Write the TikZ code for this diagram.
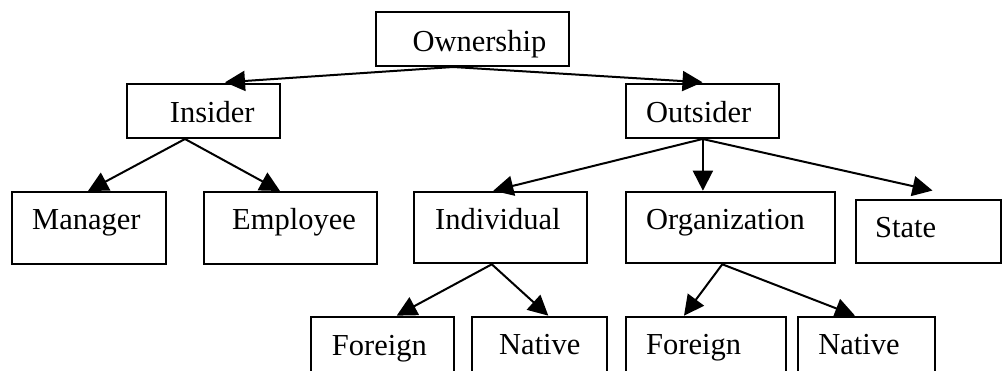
\documentclass[tikz,border=0pt]{standalone}
\usepackage{fontspec}
\setmainfont{Liberation Serif}
\usetikzlibrary{arrows.meta,calc}
\begin{document}
\begin{tikzpicture}[x=1pt,y=-1pt,
  box/.style={draw=black,line width=2pt,fill=white,rectangle,inner sep=0pt},
  lbl/.style={anchor=base west,inner sep=0pt,font=\fontsize{30.5}{36}\selectfont},
  conn/.style={line width=2pt,-{Triangle[length=20pt,width=20pt]}}]
\useasboundingbox (0,0) rectangle (1003,371);
\clip (0,0) rectangle (1003,371);
% boxes
\node[box,minimum width=193pt,minimum height=54pt] (own) at (472.5,39) {};
\node[box,minimum width=153pt,minimum height=54pt] (ins) at (203.5,111) {};
\node[box,minimum width=153.6pt,minimum height=54pt] (out) at (702.5,111) {};
\node[box,minimum width=154pt,minimum height=72pt] (man) at (89,228) {};
\node[box,minimum width=173pt,minimum height=72pt] (emp) at (290.5,228) {};
\node[box,minimum width=173pt,minimum height=71.6pt] (ind) at (500.8,227.5) {};
\node[box,minimum width=209.3pt,minimum height=71.6pt] (org) at (730.3,227.5) {};
\node[box,minimum width=145.3pt,minimum height=63.3pt] (sta) at (928.3,231.7) {};
\node[box,minimum width=143pt,minimum height=71.3pt] (fo1) at (382.5,352.3) {};
\node[box,minimum width=134.4pt,minimum height=71.3pt] (na1) at (539.5,352.3) {};
\node[box,minimum width=160pt,minimum height=71.3pt] (fo2) at (705.7,352.3) {};
\node[box,minimum width=136.7pt,minimum height=71.3pt] (na2) at (866.7,352.3) {};
% texts
\node[lbl] (townership) at ($(own.north west)+(37.3,40.5)$) {Ownership};
\node[lbl] (tinsider) at ($(ins.north west)+(43.7,39.3)$) {Insider};
\node[lbl] (toutsider) at ($(out.north west)+(21.3,39.3)$) {Outsider};
\node[lbl] (tmanager) at ($(man.north west)+(21,38.5)$) {Manager};
\node[lbl] (temployee) at ($(emp.north west)+(29,38.5)$) {Employee};
\node[lbl] (tindividual) at ($(ind.north west)+(21.7,38.8)$) {Individual};
\node[lbl] (torganization) at ($(org.north west)+(21.3,39.3)$) {Organization};
\node[lbl] (tstate) at ($(sta.north west)+(20.3,38.5)$) {State};
\node[lbl] (tforeign1) at ($(fo1.north west)+(21.7,40)$) {Foreign};
\node[lbl] (tnative1) at ($(na1.north west)+(27.7,39.3)$) {Native};
\node[lbl] (tforeign2) at ($(fo2.north west)+(21.3,39.3)$) {Foreign};
\node[lbl] (tnative2) at ($(na2.north west)+(20.7,39.3)$) {Native};
% connectors
\draw[conn] ($(own.south)+(-19.5,0)$) -- ($(ins.north)+(21.5,-0.7)$);
\draw[conn] ($(own.south)+(-19.5,0)$) -- ($(out.north)+(0,-0.7)$);
\draw[conn] ($(ins.south)+(-18.5,0)$) -- ($(man.north)+(-1,0)$);
\draw[conn] ($(ins.south)+(-18.5,0)$) -- ($(emp.north)+(-10.5,0)$);
\draw[conn] (out.south) -- ($(ind.north)+(-7.5,0)$);
\draw[conn] ($(out.south)+(0.4,0)$) -- ($(out.south |- org.north)+(0.4,0)$);
\draw[conn] (out.south) -- ($(sta.north)+(4.2,-8.5)$);
\draw[conn] ($(ind.south)+(-9,0)$) -- ($(fo1.north)+(14.2,0)$);
\draw[conn] ($(ind.south)+(-9,0)$) -- ($(na1.north)+(8.8,0)$);
\draw[conn] ($(org.south)+(-8,0)$) -- ($(fo2.north)+(-21.7,0)$);
\draw[conn] ($(org.south)+(-8,0)$) -- ($(na2.north)+(-11.7,0)$);
\end{tikzpicture}
\end{document}
